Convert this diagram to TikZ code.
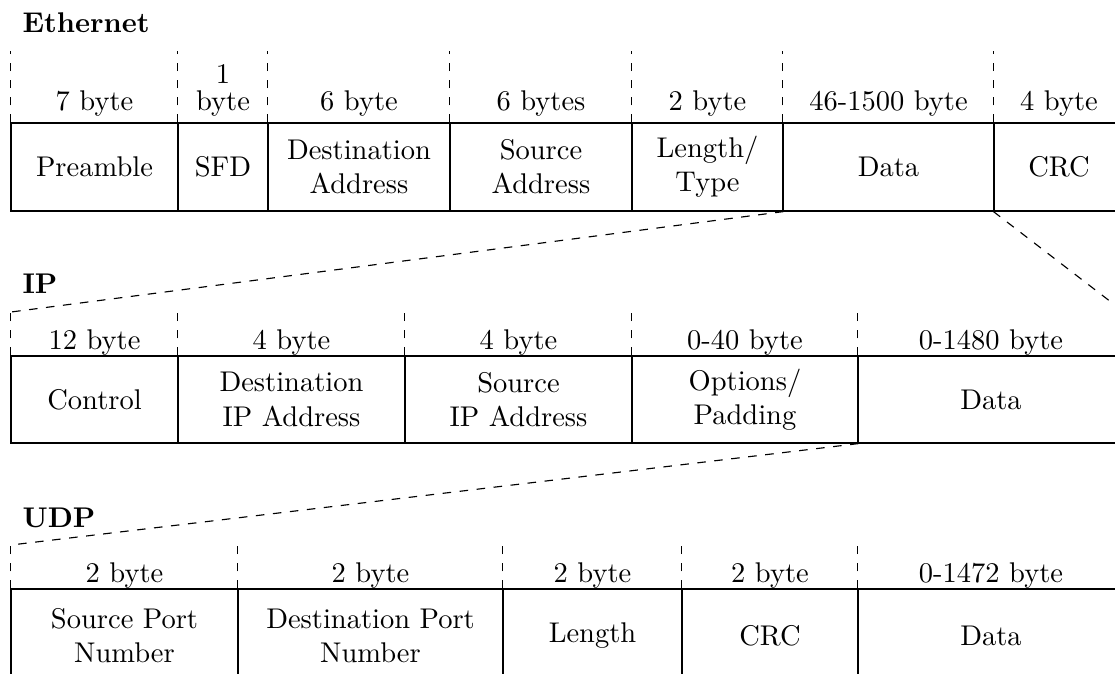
\documentclass[tikz,border=0pt]{standalone}
\begin{document}
\def\u{0.3509pt}
\begin{tikzpicture}[x=\u, y=-\u,
  cell/.style={draw, line width=0.4pt, inner sep=0pt, align=center},
  hdr/.style={anchor=base, inner sep=0pt, align=center},
  ttl/.style={anchor=base west, inner sep=0pt, font=\bfseries},
  sep/.style={dashed, line width=0.4pt},
  link/.style={dashed, line width=0.4pt}]
\useasboundingbox (0,0) rectangle (1115,673);
\clip (0,0) rectangle (1115,673);

% ---------------- Ethernet frame ----------------
\node[ttl] (tEth) at (22,32) {Ethernet};
\node[cell, minimum width=167*\u, minimum height=88*\u] (epre) at (94.5,167)  {Preamble};
\node[cell, minimum width=90*\u,  minimum height=88*\u] (esfd) at (223,167)   {SFD};
\node[cell, minimum width=182*\u, minimum height=88*\u] (edst) at (359,167)   {Destination\\Address};
\node[cell, minimum width=182*\u, minimum height=88*\u] (esrc) at (541,167)   {Source\\Address};
\node[cell, minimum width=151*\u, minimum height=88*\u] (elen) at (707.5,167) {Length/\\Type};
\node[cell, minimum width=211*\u, minimum height=88*\u] (edat) at (888.5,167) {Data};
\node[cell, minimum width=130*\u, minimum height=88*\u] (ecrc) at (1059,167)  {CRC};

\node[hdr] (hepre) at (94.5,110)  {7 byte};
\node[hdr] (hesfd) at (223,83)    {1};
\node[hdr] (hesfdb) at (223,110)  {byte};
\node[hdr] (hedst) at (359,110)   {6 byte};
\node[hdr] (hesrc) at (541,110)   {6 bytes};
\node[hdr] (helen) at (707.5,110) {2 byte};
\node[hdr] (hedat) at (888.5,110) {46-1500 byte};
\node[hdr] (hecrc) at (1059,110)  {4 byte};

\foreach \c in {epre,esfd,edst,esrc,elen,edat,ecrc}
  \draw[sep] (\c.north west) -- ++(0,-71);

% ---------------- IP packet ----------------
\node[ttl] (tIP) at (22,293) {IP};
\node[cell, minimum width=167*\u, minimum height=87*\u] (ictl) at (94.5,399.5)  {Control};
\node[cell, minimum width=227*\u, minimum height=87*\u] (idst) at (291.5,399.5) {Destination\\IP Address};
\node[cell, minimum width=227*\u, minimum height=87*\u] (isrc) at (518.5,399.5) {Source\\IP Address};
\node[cell, minimum width=226*\u, minimum height=87*\u] (iopt) at (745,399.5)   {Options/\\Padding};
\node[cell, minimum width=266*\u, minimum height=87*\u] (idat) at (991,399.5)   {Data};

\node[hdr] (hictl) at (94.5,349)  {12 byte};
\node[hdr] (hidst) at (291.5,349) {4 byte};
\node[hdr] (hisrc) at (518.5,349) {4 byte};
\node[hdr] (hiopt) at (745,349)   {0-40 byte};
\node[hdr] (hidat) at (991,349)   {0-1480 byte};

\foreach \c in {ictl,idst,isrc,iopt,idat}
  \draw[sep] (\c.north west) -- ++(0,-44);

% ---------------- UDP datagram ----------------
\node[ttl] (tUDP) at (22,527) {UDP};
\node[cell, minimum width=227*\u, minimum height=94*\u] (usrc) at (124.5,636) {Source Port\\Number};
\node[cell, minimum width=265*\u, minimum height=94*\u] (udst) at (370.5,636) {Destination Port\\Number};
\node[cell, minimum width=179*\u, minimum height=94*\u] (ulen) at (592.5,636) {Length};
\node[cell, minimum width=176*\u, minimum height=94*\u] (ucrc) at (770,636)   {CRC};
\node[cell, minimum width=266*\u, minimum height=94*\u] (udat) at (991,636)   {Data};

\node[hdr] (husrc) at (124.5,582) {2 byte};
\node[hdr] (hudst) at (370.5,582) {2 byte};
\node[hdr] (hulen) at (592.5,582) {2 byte};
\node[hdr] (hucrc) at (770,582)   {2 byte};
\node[hdr] (hudat) at (991,582)   {0-1472 byte};

\foreach \c in {usrc,udst,ulen,ucrc,udat}
  \draw[sep] (\c.north west) -- ++(0,-44);

% ---------------- zoom connectors ----------------
\coordinate (ipTL) at (11,312);
\coordinate (ipTR) at (1124,312);
\coordinate (udTL) at (11,545);
\draw[link] (elen.south east) -- (ipTL);
\draw[link] (ecrc.south west) -- (ipTR);
\draw[link] (iopt.south east) -- (udTL);
\end{tikzpicture}
\end{document}
